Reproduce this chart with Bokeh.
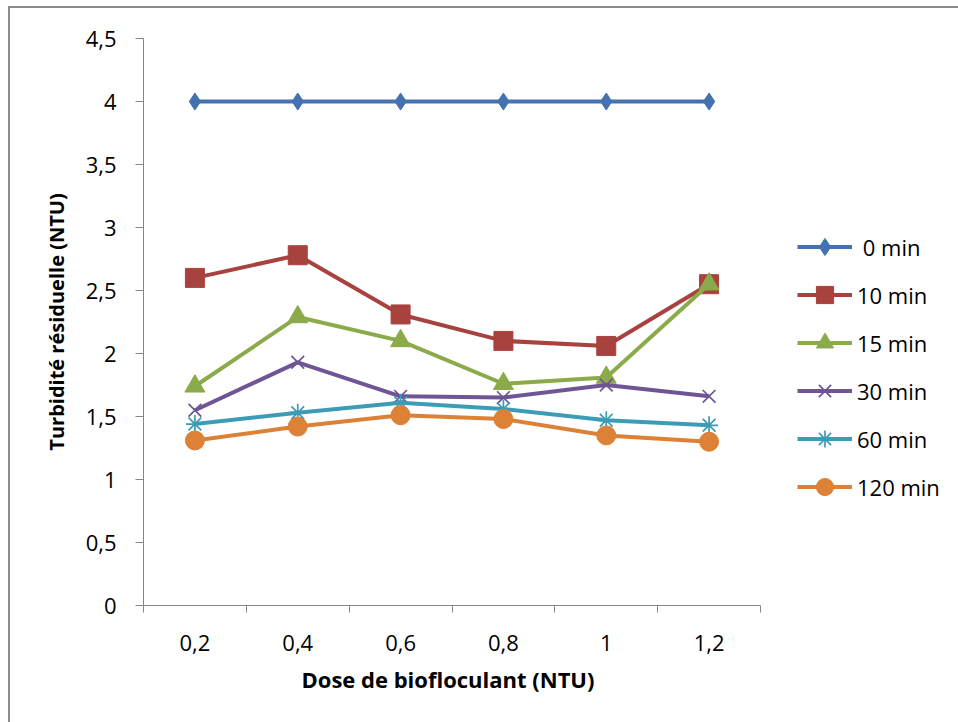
from bokeh.plotting import figure
from bokeh.models import (Range1d, FixedTicker, CustomJSTickFormatter, Legend, LegendItem,
                          ColumnDataSource, InlineStyleSheet, Title)
from bokeh.embed import file_html
from bokeh.resources import INLINE

# ---- data ----
doses = ["0,2", "0,4", "0,6", "0,8", "1", "1,2"]
series_names = [" 0 min", "10 min", "15 min", "30 min", "60 min", "120 min"]
t0 = [4.0, 4.0, 4.0, 4.0, 4.0, 4.0]
t10 = [2.60, 2.78, 2.31, 2.10, 2.06, 2.55]
t15 = [1.74, 2.29, 2.10, 1.76, 1.81, 2.55]
t30 = [1.55, 1.93, 1.66, 1.65, 1.75, 1.66]
t60 = [1.44, 1.53, 1.61, 1.56, 1.47, 1.43]
t120 = [1.31, 1.42, 1.51, 1.48, 1.35, 1.30]
y_ticks = [0, 0.5, 1, 1.5, 2, 2.5, 3, 3.5, 4, 4.5]
x_title = "Dose de biofloculant (NTU)"
y_title = "Turbidité résiduelle (NTU)"

colors = ["#4472B0", "#A8423F", "#8BAA4A", "#6E5596", "#3D9CB5", "#DD8136"]
markers = ["diamond", "square", "triangle", "x", "asterisk", "circle"]
sizes = [17, 19, 20, 18, 18, 19]
values = [t0, t10, t15, t30, t60, t120]

FONT = "Open Sans"

# layout: plot area 143..760 px for the categories, legend drawn to the right inside the frame
W, H = 958, 722
LEFT, RIGHT_AXIS, TOP, BOTTOM = 143, 760, 38, 605
n = len(doses)
unit = (RIGHT_AXIS - LEFT) / n
x_end = 0.5 + (W - LEFT) / unit

p = figure(width=W, height=H, output_backend="svg", toolbar_location=None,
           x_range=Range1d(0.5, x_end), y_range=Range1d(0, 4.5),
           min_border_left=LEFT, min_border_right=0, min_border_top=TOP, min_border_bottom=H - BOTTOM)
p.outline_line_color = None
p.xgrid.visible = False
p.ygrid.visible = False
p.background_fill_color = "white"
p.border_fill_color = "white"

xs = list(range(1, n + 1))
items = []
for name, vals, c, m, s in zip(series_names, values, colors, markers, sizes):
    src = ColumnDataSource(dict(x=xs, y=vals))
    lr = p.line("x", "y", source=src, line_color=c, line_width=4)
    if m in ("x", "asterisk"):
        mr = p.scatter("x", "y", source=src, marker=m, size=s, line_color=c, line_width=1.7)
    else:
        mr = p.scatter("x", "y", source=src, marker=m, size=s, fill_color=c, line_color=c)
    items.append(LegendItem(label=name, renderers=[lr, mr]))

AX = "#868686"
# x axis
xa = p.xaxis[0]
xa.bounds = (0.5, n + 0.5)
xa.ticker = FixedTicker(ticks=xs, minor_ticks=[x + 0.5 for x in range(0, n + 1)])
xa.major_label_overrides = {x: d for x, d in zip(xs, doses)}
xa.major_tick_line_color = None
xa.major_tick_out = 0
xa.major_tick_in = 0
xa.minor_tick_line_color = AX
xa.minor_tick_out = 7
xa.minor_tick_in = 0
xa.axis_line_color = AX
xa.major_label_standoff = 22
xa.major_label_text_font = FONT
xa.major_label_text_font_size = "22px"
xa.major_label_text_color = "black"

# x-axis title, centred under the category axis (not under the whole frame)
xt = Title(text=x_title, align="left", offset=158, standoff=16,
           text_font=FONT, text_font_style="bold", text_font_size="22px", text_color="black")
p.add_layout(xt, "below")

ya = p.yaxis[0]
ya.ticker = FixedTicker(ticks=y_ticks, minor_ticks=[])
ya.formatter = CustomJSTickFormatter(code="return tick.toString().replace('.', ',');")
ya.major_tick_line_color = AX
ya.major_tick_out = 8
ya.major_tick_in = 0
ya.minor_tick_line_color = None
ya.axis_line_color = AX
ya.major_label_standoff = 19
ya.major_label_text_font = FONT
ya.major_label_text_font_size = "22px"
ya.major_label_text_color = "black"
ya.axis_label = y_title
ya.axis_label_text_font = FONT
ya.axis_label_text_font_style = "bold"
ya.axis_label_text_font_size = "20px"
ya.axis_label_text_color = "black"
ya.axis_label_standoff = 13

legend = Legend(items=items, location=(797 - LEFT, 97), orientation="vertical",
                glyph_width=55, glyph_height=43, label_height=20, spacing=5,
                label_standoff=5, padding=0, margin=0,
                border_line_color=None, background_fill_alpha=0,
                label_text_font=FONT, label_text_font_size="22px", label_text_color="black")
p.add_layout(legend)

# outer chart-area border
p.stylesheets = [InlineStyleSheet(css=":host{position:relative;} :host::after{content:''; position:absolute; "
                                  "left:8px; top:6px; width:1000px; height:800px; border:2px solid #8C8C8C; "
                                  "pointer-events:none; box-sizing:border-box;}")]

open("out.html", "w").write(file_html(p, INLINE))
